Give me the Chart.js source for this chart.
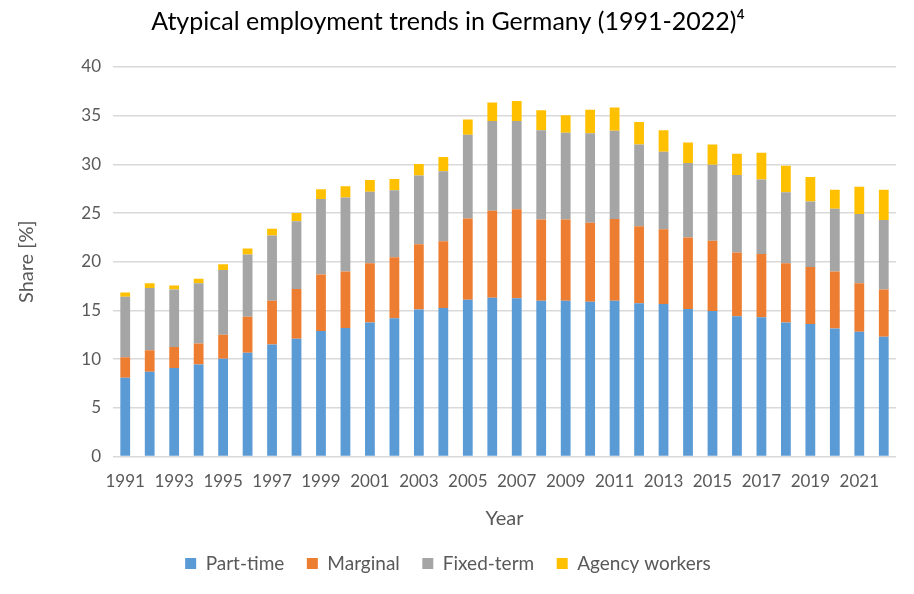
<!DOCTYPE html>
<html lang="en">
<head>
    <meta charset="UTF-8">
    <title>Atypical employment trends in Germany</title>
    <script src="https://cdn.jsdelivr.net/npm/chart.js"></script>
    <style>
        body { margin: 0; background: #fff; }
    </style>
</head>
<body>
    <canvas id="atypChart" width="914" height="594"></canvas>

    <script>
        const years = [];
        for (let y = 1991; y <= 2022; y++) years.push(String(y));

        // values (share in %)
        const partTime = [8.1, 8.7, 9.1, 9.45, 10.05, 10.65, 11.5, 12.1, 12.9, 13.2, 13.75, 14.2, 15.1, 15.25, 16.1, 16.3,
                          16.25, 16.0, 16.0, 15.9, 16.0, 15.75, 15.65, 15.15, 14.95, 14.4, 14.3, 13.75, 13.6, 13.15, 12.8, 12.3];
        const marginal = [2.1, 2.2, 2.15, 2.15, 2.45, 3.7, 4.5, 5.1, 5.8, 5.8, 6.1, 6.25, 6.7, 6.85, 8.35, 8.95,
                          9.15, 8.35, 8.35, 8.1, 8.4, 7.9, 7.7, 7.35, 7.2, 6.55, 6.5, 6.1, 5.85, 5.85, 5.0, 4.85];
        const fixedTerm = [6.2, 6.4, 5.9, 6.2, 6.65, 6.4, 6.7, 6.95, 7.75, 7.6, 7.35, 6.9, 7.05, 7.2, 8.6, 9.2,
                           9.05, 9.15, 8.9, 9.2, 9.05, 8.4, 7.95, 7.65, 7.8, 7.95, 7.65, 7.3, 6.75, 6.45, 7.1, 7.15];
        const agency = [0.45, 0.5, 0.4, 0.45, 0.6, 0.6, 0.7, 0.85, 1.0, 1.15, 1.2, 1.15, 1.2, 1.45, 1.55, 1.9,
                        2.05, 2.05, 1.8, 2.4, 2.4, 2.3, 2.2, 2.1, 2.1, 2.2, 2.75, 2.7, 2.5, 1.95, 2.8, 3.1];

        const yTicks = [0, 5, 10, 15, 20, 25, 30, 35, 40];

        const textGrey = '#595959';
        const fontName = 'Lato, "Open Sans", sans-serif';

        function series(label, data, color) {
            return {
                label: label,
                data: data,
                backgroundColor: color,
                borderWidth: 0,
                categoryPercentage: 1.0,
                barPercentage: 0.4
            };
        }

        const ctx = document.getElementById('atypChart').getContext('2d');
        new Chart(ctx, {
            type: 'bar',
            data: {
                labels: years,
                datasets: [
                    series('Part-time', partTime, '#5B9BD5'),
                    series('Marginal', marginal, '#ED7D31'),
                    series('Fixed-term', fixedTerm, '#A5A5A5'),
                    series('Agency workers', agency, '#FFC000')
                ]
            },
            options: {
                responsive: false,
                animation: false,
                layout: { padding: { left: 0, right: 18, top: 0, bottom: 11 } },
                scales: {
                    x: {
                        stacked: true,
                        grid: { display: false, drawTicks: false },
                        border: { display: false },
                        ticks: {
                            autoSkip: false,
                            maxRotation: 0,
                            padding: 15,
                            color: textGrey,
                            font: { family: fontName, size: 17 },
                            callback: function (val, i) { return i % 2 === 0 ? this.getLabelForValue(val) : ''; }
                        },
                        title: {
                            display: true,
                            text: 'Year',
                            color: textGrey,
                            font: { family: fontName, size: 20 },
                            padding: { top: 10, bottom: 10 }
                        },
                        afterFit: (scale) => { scale.height = 84.5; }
                    },
                    y: {
                        stacked: true,
                        min: 0,
                        max: 40,
                        afterBuildTicks: (scale) => { scale.ticks = yTicks.map(v => ({ value: v })); },
                        grid: { color: '#d9d9d9', lineWidth: 1.5, drawTicks: false },
                        border: { display: false },
                        ticks: {
                            padding: 12,
                            color: textGrey,
                            font: { family: fontName, size: 17 }
                        },
                        title: {
                            display: true,
                            text: 'Share [%]',
                            color: textGrey,
                            font: { family: fontName, size: 20 },
                            padding: { top: 15, bottom: 15 }
                        },
                        afterFit: (scale) => { scale.width = 113; }
                    }
                },
                plugins: {
                    title: {
                        display: true,
                        text: 'Atypical employment trends in Germany (1991-2022)\u2074',
                        color: '#000',
                        font: { family: fontName, size: 25, weight: 'normal' },
                        padding: { top: 7, bottom: 30 }
                    },
                    legend: {
                        position: 'bottom',
                        labels: {
                            boxWidth: 11,
                            boxHeight: 11,
                            padding: 13,
                            color: textGrey,
                            font: { family: fontName, size: 19 },
                            // a little extra room between entries, as in the original
                            generateLabels: (chart) => {
                                const items = Chart.defaults.plugins.legend.labels.generateLabels(chart);
                                items.forEach((it, i) => { if (i < items.length - 1) it.text += '\u2002'; });
                                return items;
                            }
                        }
                    },
                    tooltip: { enabled: false }
                }
            }
        });
    </script>
</body>
</html>
